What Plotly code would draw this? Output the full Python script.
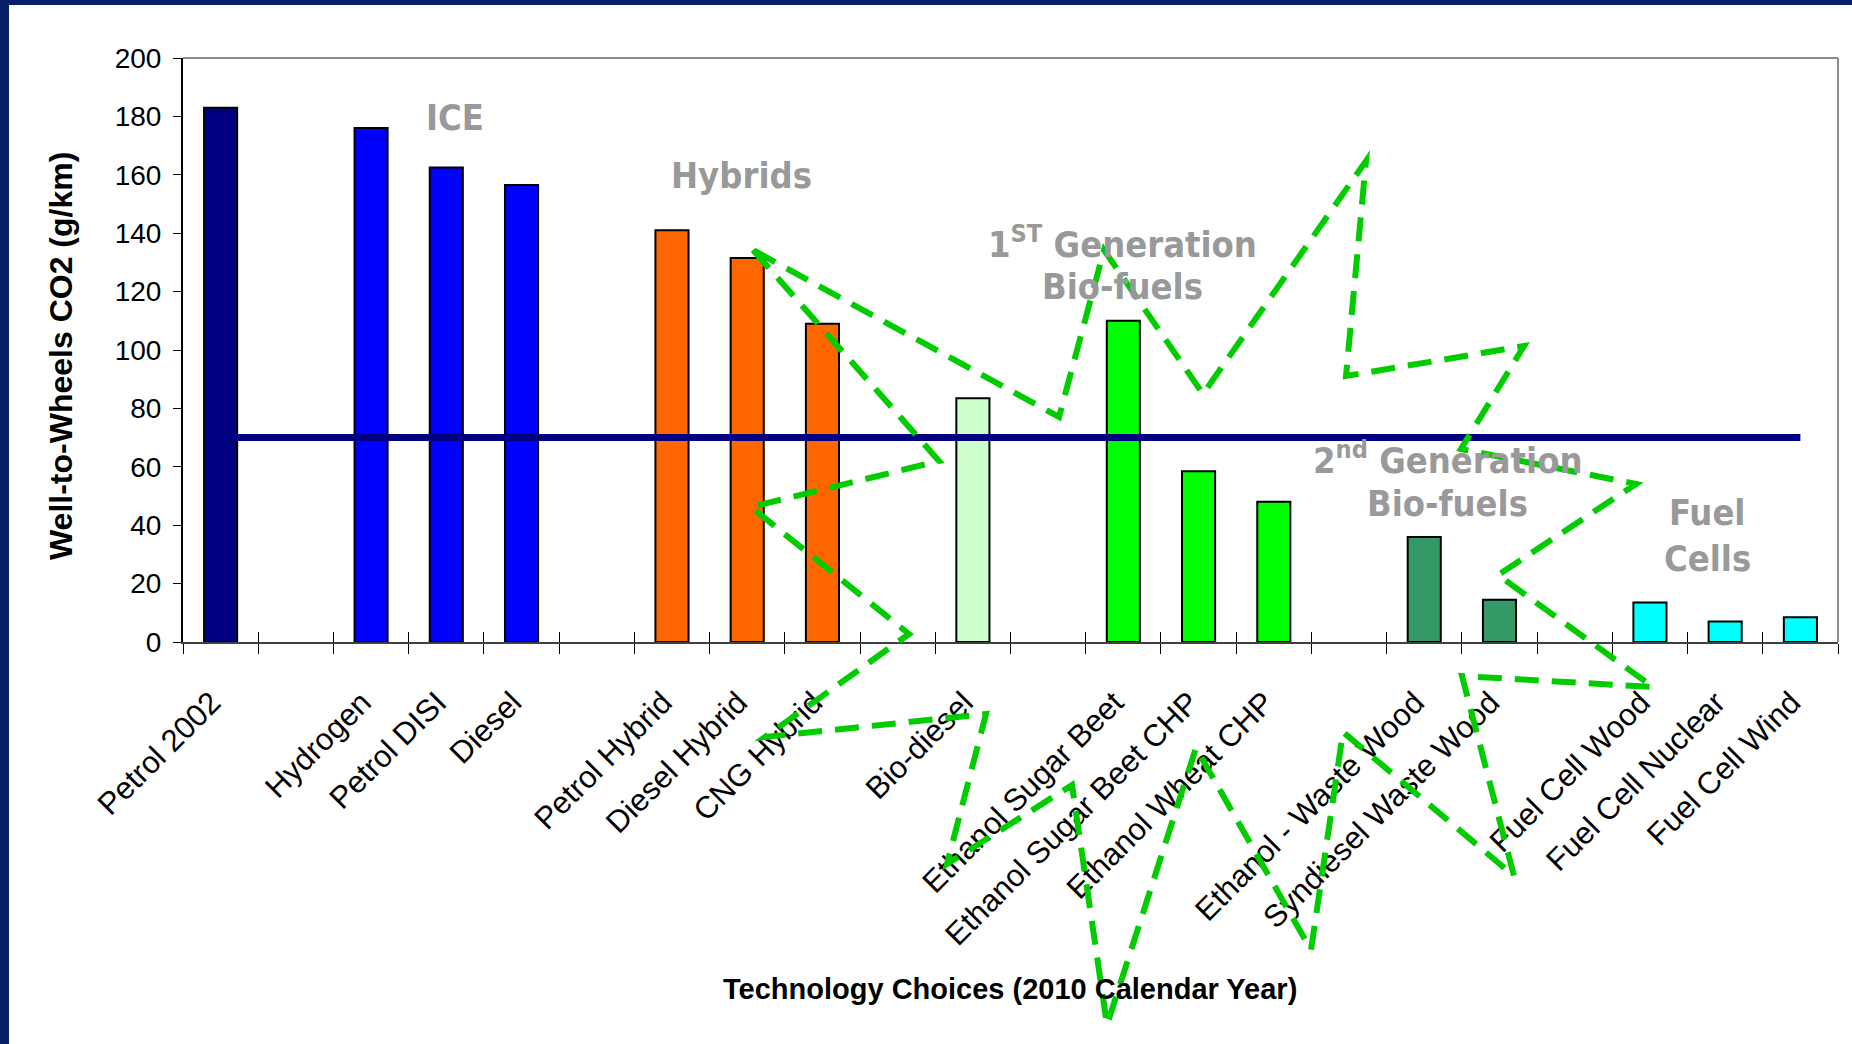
import plotly.graph_objects as go

# ---------------- data ----------------
categories = ["Petrol 2002", "", "Hydrogen", "Petrol DISI", "Diesel", "",
              "Petrol Hybrid", "Diesel Hybrid", "CNG Hybrid", "", "Bio-diesel", "",
              "Ethanol Sugar Beet", "Ethanol Sugar Beet CHP", "Ethanol Wheat CHP", "",
              "Ethanol - Waste Wood", "Syndiesel Waste Wood", "",
              "Fuel Cell Wood", "Fuel Cell Nuclear", "Fuel Cell Wind"]
co2_values = [183, None, 176, 162.5, 156.5, None,
              141, 131.5, 109, None, 83.5, None,
              110, 58.5, 48, None,
              36, 14.5, None,
              13.5, 7, 8.5]
bar_colors = ["#000080", None, "#0000FF", "#0000FF", "#0000FF", None,
              "#FF6600", "#FF6600", "#FF6600", None, "#CCFFCC", None,
              "#00FF00", "#00FF00", "#00FF00", None,
              "#339966", "#339966", None,
              "#00FFFF", "#00FFFF", "#00FFFF"]
target_value = 70
y_ticks = [0, 20, 40, 60, 80, 100, 120, 140, 160, 180, 200]

group_labels = [
    ("ICE", 455, 117),
    ("Hybrids", 741, 175),
    ("1<sup>ST</sup> Generation", 1122, 242),
    ("Bio-fuels", 1122, 286),
    ("2<sup>nd</sup> Generation", 1447, 458),
    ("Bio-fuels", 1447, 503),
    ("Fuel", 1707, 512),
    ("Cells", 1707, 558),
]

# decorative dashed star outline (pixel positions in the page)
star_px = [(753, 250), (939, 461), (751, 507), (909, 634), (765, 737), (986, 714),
           (947, 864), (1072, 785), (1107, 1025), (1196, 748), (1311, 950),
           (1343, 732), (1514, 876), (1462, 676), (1653, 687), (1498, 575),
           (1636, 484), (1461, 449), (1524, 346), (1346, 376), (1366, 161),
           (1203, 394), (1104, 250), (1059, 417)]

# ---------------- layout geometry ----------------
W, H = 1852, 1044
L, R, T, B = 183, 1838, 58, 642


def px(x):
    return (x - L) / (R - L)


def py(y):
    return (B - y) / (B - T)


xs = list(range(len(categories)))
bar_x = [i for i, v in zip(xs, co2_values) if v is not None]
bar_y = [v for v in co2_values if v is not None]
bar_c = [c for c, v in zip(bar_colors, co2_values) if v is not None]
label_vals = [i for i, c in zip(xs, categories) if c]
label_text = [c for c in categories if c]
boundaries = [i - 0.5 for i in range(len(categories) + 1)]

fig = go.Figure()
fig.add_trace(go.Bar(x=bar_x, y=bar_y, width=0.44,
                     marker=dict(color=bar_c, line=dict(color="#000000", width=2)),
                     showlegend=False, hoverinfo="skip"))
fig.add_trace(go.Scatter(x=[xs[0], xs[-1]], y=[target_value, target_value], mode="lines",
                         line=dict(color="#000080", width=7), showlegend=False,
                         hoverinfo="skip"))
fig.add_trace(go.Scatter(x=[xs[0]], y=[0], xaxis="x2", mode="markers",
                         marker=dict(opacity=0), showlegend=False, hoverinfo="skip"))

font_main = "Liberation Sans, Arial, sans-serif"

fig.update_layout(
    width=W, height=H,
    margin=dict(l=L, r=W - R, t=T, b=H - B),
    paper_bgcolor="#FFFFFF", plot_bgcolor="#FFFFFF",
    xaxis=dict(range=[-0.5, len(categories) - 0.5], tickmode="array",
               tickvals=label_vals, ticktext=label_text, tickangle=-45,
               ticks="", showgrid=False, zeroline=False,
               showline=True, linecolor="#404040", linewidth=2,
               tickfont=dict(family=font_main, size=31, color="#000000"),
               ticklabelstandoff=28, ticklabelshift=-9,
               minor=dict(tickmode="array", tickvals=boundaries, ticks="outside",
                          ticklen=10, tickwidth=1, tickcolor="#000000", showgrid=False)),
    xaxis2=dict(overlaying="x", matches="x", anchor="y", side="bottom",
                tickmode="array", tickvals=boundaries, ticks="inside", ticklen=10,
                tickwidth=1, tickcolor="#000000", showticklabels=False,
                showgrid=False, zeroline=False, showline=False),
    yaxis=dict(range=[0, 200], tickmode="array", tickvals=y_ticks,
               ticks="outside", ticklen=8, tickwidth=1, tickcolor="#000000",
               showgrid=False, zeroline=False, showline=True,
               linecolor="#000000", linewidth=2,
               tickfont=dict(family=font_main, size=28, color="#000000"),
               ticklabelstandoff=6),
    bargap=0.56,
)

shapes = [
    # gray top and right frame of the plot
    dict(type="line", xref="paper", yref="paper", x0=0, x1=1, y0=1, y1=1,
         line=dict(color="#8C8C8C", width=2)),
    dict(type="line", xref="paper", yref="paper", x0=1, x1=1, y0=0, y1=1,
         line=dict(color="#8C8C8C", width=2)),
    # navy slide border
    dict(type="rect", xref="paper", yref="paper", x0=px(0), x1=px(9), y0=py(H), y1=py(0),
         line=dict(width=0), fillcolor="#062068"),
    dict(type="rect", xref="paper", yref="paper", x0=px(0), x1=px(W), y0=py(5), y1=py(0),
         line=dict(width=0), fillcolor="#062068"),
]
path = "M " + " L ".join(f"{px(x):.5f},{py(y):.5f}" for x, y in star_px) + " Z"
shapes.append(dict(type="path", xref="paper", yref="paper", path=path, layer="above",
                   line=dict(color="#00CC00", width=6, dash="24px,13px")))
fig.update_layout(shapes=shapes)

annotations = []
for text, x, y in group_labels:
    annotations.append(dict(text=f"<b>{text}</b>", x=px(x), y=py(y), xref="paper", yref="paper",
                            xanchor="center", yanchor="middle", showarrow=False,
                            font=dict(family="DejaVu Sans Condensed, DejaVu Sans", size=36,
                                      color="#999999")))
annotations.append(dict(text="<b>Well-to-Wheels CO2 (g/km)</b>", x=px(61), y=py(356),
                        xref="paper", yref="paper", textangle=-90, showarrow=False,
                        xanchor="center", yanchor="middle",
                        font=dict(family=font_main, size=32, color="#000000")))
annotations.append(dict(text="<b>Technology Choices (2010 Calendar Year)</b>", x=px(1010),
                        y=py(989), xref="paper", yref="paper", showarrow=False,
                        xanchor="center", yanchor="middle",
                        font=dict(family="Liberation Sans Narrow, Arial Narrow, Arial",
                                  size=29, color="#000000")))
fig.update_layout(annotations=annotations)

fig.write_html("out.html", config={"displayModeBar": False},
               post_script="document.body.style.margin='0';document.body.style.overflow='hidden';")
